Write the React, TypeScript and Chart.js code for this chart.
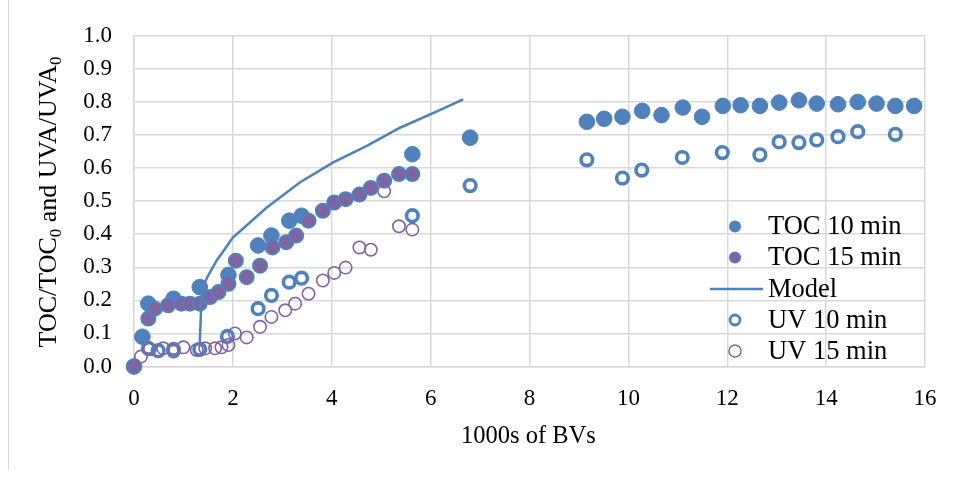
import React, { useEffect, useRef } from "react";
import { Chart, registerables } from "chart.js";

Chart.register(...registerables);

// ---- data ----
const xTickValues = [0, 2, 4, 6, 8, 10, 12, 14, 16];
const yTickValues = [0, 0.1, 0.2, 0.3, 0.4, 0.5, 0.6, 0.7, 0.8, 0.9, 1.0];

const toc10X = [0, 0.17, 0.29, 0.8, 1.33, 1.91, 2.51, 2.78, 3.14, 3.39, 5.63, 6.8, 9.16, 9.51, 9.88, 10.28, 10.67, 11.1, 11.49, 11.91, 12.27, 12.66, 13.05, 13.45, 13.81, 14.24, 14.64, 15.02, 15.4, 15.78];
const toc10Y = [0, 0.09, 0.19, 0.205, 0.24, 0.277, 0.366, 0.396, 0.441, 0.456, 0.642, 0.692, 0.74, 0.749, 0.755, 0.773, 0.76, 0.783, 0.755, 0.788, 0.79, 0.788, 0.798, 0.805, 0.795, 0.793, 0.8, 0.795, 0.788, 0.788];

const toc15X = [0, 0.29, 0.42, 0.69, 0.96, 1.13, 1.33, 1.54, 1.71, 1.91, 2.06, 2.28, 2.55, 2.8, 3.08, 3.28, 3.53, 3.82, 4.05, 4.28, 4.56, 4.79, 5.06, 5.36, 5.63];
const toc15Y = [0, 0.145, 0.175, 0.185, 0.19, 0.19, 0.19, 0.21, 0.225, 0.25, 0.32, 0.27, 0.305, 0.36, 0.376, 0.396, 0.441, 0.471, 0.496, 0.506, 0.52, 0.54, 0.562, 0.582, 0.582];

const modelX = [1.33, 1.37, 1.42, 1.5, 1.67, 2.0, 2.68, 3.36, 4.03, 4.71, 5.38, 6.06, 6.66];
const modelY = [0.07, 0.225, 0.25, 0.275, 0.32, 0.39, 0.48, 0.557, 0.617, 0.667, 0.722, 0.767, 0.808];

const uv10X = [0.29, 0.49, 0.8, 1.33, 1.89, 2.51, 2.78, 3.14, 3.39, 5.63, 6.8, 9.16, 9.88, 10.27, 11.09, 11.9, 12.66, 13.05, 13.45, 13.81, 14.24, 14.64, 15.4];
const uv10Y = [0.055, 0.048, 0.052, 0.052, 0.091, 0.175, 0.215, 0.255, 0.267, 0.456, 0.547, 0.625, 0.57, 0.594, 0.632, 0.647, 0.64, 0.679, 0.677, 0.685, 0.695, 0.71, 0.702];

const uv15X = [0.14, 0.32, 0.59, 0.8, 1.0, 1.27, 1.44, 1.64, 1.77, 1.91, 2.04, 2.28, 2.55, 2.78, 3.06, 3.26, 3.53, 3.82, 4.05, 4.28, 4.56, 4.79, 5.06, 5.36, 5.63];
const uv15Y = [0.03, 0.052, 0.055, 0.045, 0.058, 0.05, 0.055, 0.055, 0.058, 0.065, 0.1, 0.088, 0.12, 0.15, 0.17, 0.19, 0.22, 0.26, 0.283, 0.299, 0.36, 0.353, 0.53, 0.424, 0.414];

const seriesNames = ["TOC 10 min", "TOC 15 min", "Model", "UV 10 min", "UV 15 min"];
const xTitle = "1000s of BVs";

const BLUE = "#4F81BD";
const PURPLE = "#8064A2";
const GRID = "#d9d9d9";
const FONT = "'Liberation Serif', 'Times New Roman', serif";

const pts = (xs: number[], ys: number[]) => xs.map((x, i) => ({ x, y: ys[i] }));

const overlayPlugin = {
  id: "overlay",
  afterDraw(chart: any) {
    const ctx = chart.ctx as CanvasRenderingContext2D;
    const area = chart.chartArea;
    ctx.save();
    // outer frame (left edge)
    ctx.strokeStyle = GRID;
    ctx.lineWidth = 1;
    ctx.beginPath();
    ctx.moveTo(8.5, 0);
    ctx.lineTo(8.5, 470);
    ctx.stroke();

    ctx.fillStyle = "#000";
    // x title
    ctx.font = `24.5px ${FONT}`;
    ctx.textAlign = "center";
    ctx.textBaseline = "middle";
    ctx.fillText(xTitle, (area.left + area.right) / 2 - 1, 437);

    // y title with subscripts
    const mainSize = 26;
    const subSize = 17;
    const parts: [string, boolean][] = [
      ["TOC/TOC", false],
      ["0", true],
      [" and UVA/UVA", false],
      ["0", true],
    ];
    let total = 0;
    parts.forEach(([t, sub]) => {
      ctx.font = `${sub ? subSize : mainSize}px ${FONT}`;
      total += ctx.measureText(t).width;
    });
    ctx.save();
    ctx.translate(56, 202);
    ctx.rotate(-Math.PI / 2);
    ctx.textAlign = "left";
    ctx.textBaseline = "alphabetic";
    let cx = -total / 2;
    parts.forEach(([t, sub]) => {
      ctx.font = `${sub ? subSize : mainSize}px ${FONT}`;
      ctx.fillText(t, cx, sub ? 5 : 0);
      cx += ctx.measureText(t).width;
    });
    ctx.restore();

    // legend
    const rowY = [226.5, 257.5, 289, 320, 351];
    const markX = 735;
    const textX = 768;
    ctx.font = `26.5px ${FONT}`;
    ctx.textAlign = "left";
    ctx.textBaseline = "middle";
    seriesNames.forEach((name, i) => {
      const y = rowY[i];
      ctx.beginPath();
      if (i === 0) {
        ctx.arc(markX, y, 6, 0, Math.PI * 2);
        ctx.fillStyle = BLUE;
        ctx.fill();
      } else if (i === 1) {
        ctx.arc(markX, y, 5.3, 0, Math.PI * 2);
        ctx.fillStyle = PURPLE;
        ctx.fill();
        ctx.lineWidth = 1.6;
        ctx.strokeStyle = BLUE;
        ctx.stroke();
      } else if (i === 2) {
        ctx.moveTo(710, y);
        ctx.lineTo(763, y);
        ctx.lineWidth = 2.4;
        ctx.strokeStyle = BLUE;
        ctx.stroke();
      } else if (i === 3) {
        ctx.arc(markX, y, 5, 0, Math.PI * 2);
        ctx.fillStyle = "#fff";
        ctx.fill();
        ctx.lineWidth = 2.8;
        ctx.strokeStyle = BLUE;
        ctx.stroke();
      } else {
        ctx.arc(markX, y, 6, 0, Math.PI * 2);
        ctx.fillStyle = "#fff";
        ctx.fill();
        ctx.lineWidth = 1.5;
        ctx.strokeStyle = PURPLE;
        ctx.stroke();
      }
      ctx.fillStyle = "#000";
      ctx.fillText(name, textX, y + 1);
    });
    ctx.restore();
  },
};

export default function App() {
  const ref = useRef<HTMLCanvasElement | null>(null);
  useEffect(() => {
    if (!ref.current) return;
    const chart = new Chart(ref.current, {
      type: "scatter",
      data: {
        datasets: [
          {
            label: seriesNames[0],
            data: pts(toc10X, toc10Y),
            pointRadius: 7.8,
            pointBackgroundColor: BLUE,
            pointBorderColor: BLUE,
            pointBorderWidth: 1,
            clip: false,
            order: 5,
          },
          {
            label: seriesNames[1],
            data: pts(toc15X, toc15Y),
            pointRadius: 7,
            pointBackgroundColor: PURPLE,
            pointBorderColor: BLUE,
            pointBorderWidth: 2,
            clip: false,
            order: 4,
          },
          {
            label: seriesNames[2],
            data: pts(modelX, modelY),
            showLine: true,
            borderColor: BLUE,
            borderWidth: 2.5,
            pointRadius: 0,
            tension: 0,
            order: 3,
          },
          {
            label: seriesNames[3],
            data: pts(uv10X, uv10Y),
            pointRadius: 5.8,
            pointBackgroundColor: "rgba(255,255,255,0)",
            pointBorderColor: BLUE,
            pointBorderWidth: 3.6,
            clip: false,
            order: 2,
          },
          {
            label: seriesNames[4],
            data: pts(uv15X, uv15Y),
            pointRadius: 6.2,
            pointBackgroundColor: "rgba(255,255,255,0)",
            pointBorderColor: PURPLE,
            pointBorderWidth: 1.6,
            clip: false,
            order: 1,
          },
        ],
      },
      options: {
        animation: false,
        responsive: false,
        maintainAspectRatio: false,
        layout: { padding: { left: 0, right: 34, top: 34.5, bottom: 0 } },
        plugins: { legend: { display: false }, tooltip: { enabled: false } },
        scales: {
          x: {
            type: "linear",
            min: 0,
            max: 16,
            afterFit: (s: any) => {
              s.height = 115.5;
            },
            afterBuildTicks: (s: any) => {
              s.ticks = xTickValues.map((v) => ({ value: v }));
            },
            ticks: {
              color: "#000",
              font: { family: FONT, size: 23 },
              padding: 19,
              callback: (v: any) => String(v),
            },
            grid: { color: GRID, lineWidth: 1.5, drawTicks: false },
            border: { color: GRID, width: 1.5 },
          },
          y: {
            type: "linear",
            min: 0,
            max: 1,
            afterFit: (s: any) => {
              s.width = 134;
            },
            afterBuildTicks: (s: any) => {
              s.ticks = yTickValues.map((v) => ({ value: v }));
            },
            ticks: {
              color: "#000",
              font: { family: FONT, size: 23 },
              padding: 22,
              callback: (v: any) => Number(v).toFixed(1),
            },
            grid: { color: GRID, lineWidth: 1.5, drawTicks: false },
            border: { color: GRID, width: 1.5 },
          },
        },
      },
      plugins: [overlayPlugin],
    });
    return () => chart.destroy();
  }, []);
  return (
    <div style={{ position: "fixed", left: 0, top: 0, width: 959, height: 482, background: "#fff" }}>
      <canvas ref={ref} width={959} height={482} style={{ width: 959, height: 482, display: "block" }} />
    </div>
  );
}
